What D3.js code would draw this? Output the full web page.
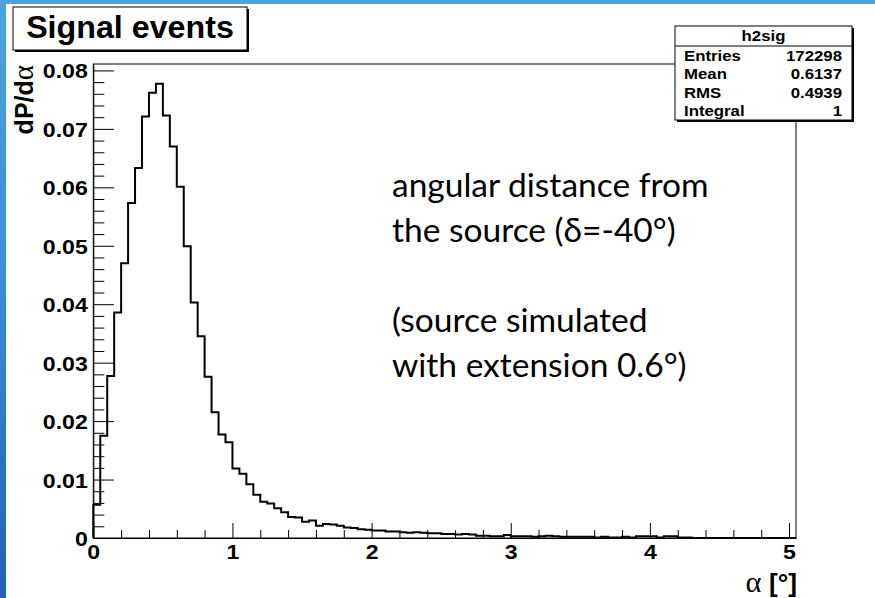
<!DOCTYPE html>
<html>
<head>
<meta charset="utf-8">
<script src="https://cdn.jsdelivr.net/npm/d3@7"></script>
<style>
  html, body { margin: 0; padding: 0; background: #fff; }
  svg { display: block; }
</style>
</head>
<body>
<svg id="chart" width="875" height="598"></svg>
<script>
// ---------------- DATA ----------------
const binWidth = 0.05;
const binLow = 0;
// histogram contents dP/dα per bin (0.05 wide bins from 0 to 5.05)
const binValues = [
  0.0057, 0.0175, 0.0277, 0.0386, 0.0470, 0.0573, 0.0633, 0.0721, 0.0762, 0.0777,
  0.0723, 0.0670, 0.0601, 0.0499, 0.0403, 0.0345, 0.0276, 0.0215, 0.0177, 0.0164,
  0.0119, 0.0110, 0.0092, 0.0074, 0.0062, 0.0059, 0.0051, 0.0044, 0.0036, 0.0035,
  0.0028, 0.0030, 0.0021, 0.0024, 0.0023, 0.0021, 0.0018, 0.0017, 0.0015, 0.0014,
  0.0013, 0.0013, 0.0011, 0.0011, 0.0010, 0.0009, 0.0010, 0.0009, 0.0008, 0.0008,
  0.0007, 0.0007, 0.0006, 0.0007, 0.0006, 0.0004, 0.0004, 0.0003, 0.0003, 0.0005,
  0.0003, 0.0003, 0.0003, 0.0002, 0.0003, 0.0004, 0.0003, 0.0002, 0.0002, 0.0002,
  0.0002, 0.0002, 0.0001, 0.0002, 0.0001, 0.0001, 0.0002, 0.0001, 0.0003, 0.0003,
  0.0003, 0.0001, 0.0003, 0.0003, 0.0001, 0.0001, 0, 0, 0, 0,
  0, 0, 0, 0, 0, 0, 0, 0, 0, 0,
  0
];
const xTicks = [0, 1, 2, 3, 4, 5];
const xTickLabels = ["0", "1", "2", "3", "4", "5"];
const yTicks = [0, 0.01, 0.02, 0.03, 0.04, 0.05, 0.06, 0.07, 0.08];
const yTickLabels = ["0", "0.01", "0.02", "0.03", "0.04", "0.05", "0.06", "0.07", "0.08"];
const yMax = 0.0811;
const titleText = "Signal events";
const statsTitle = "h2sig";
const statNames = ["Entries", "Mean", "RMS", "Integral"];
const statValues = ["172298", "0.6137", "0.4939", "1"];
const noteLines = ["angular distance from", "the source (\u03B4=-40\u00B0)", "", "(source simulated", "with extension 0.6\u00B0)"];

// ---------------- LAYOUT ----------------
const svg = d3.select("#chart");
const W = 875, H = 598;
const SX = 1.12; // horizontal stretch of the ROOT canvas text
const frame = { left: 93.3, right: 796, top: 64, bottom: 538 };
const ROOTFONT = "'Liberation Sans', Arial, Helvetica, sans-serif";
const SYMFONT = "'Liberation Serif', 'DejaVu Serif', serif";

const nBins = binValues.length;
const xMaxVal = binLow + nBins * binWidth;
const x = d3.scaleLinear().domain([binLow, xMaxVal]).range([frame.left, frame.right]);
const y = d3.scaleLinear().domain([0, yMax]).range([frame.bottom, frame.top]);

// slide background
const defs = svg.append("defs");
const grad = defs.append("linearGradient").attr("id", "bg").attr("x1", 0).attr("y1", 0).attr("x2", 0).attr("y2", 1);
grad.append("stop").attr("offset", "0%").attr("stop-color", "#4aa4dc");
grad.append("stop").attr("offset", "45%").attr("stop-color", "#3b8fd2");
grad.append("stop").attr("offset", "100%").attr("stop-color", "#2660b4");
svg.append("rect").attr("x", 0).attr("y", 0).attr("width", W).attr("height", H).attr("fill", "url(#bg)");
svg.append("rect").attr("x", 6).attr("y", 4).attr("width", W - 6).attr("height", H - 4).attr("fill", "#fff");

// frame
svg.append("rect")
  .attr("x", frame.left).attr("y", frame.top)
  .attr("width", frame.right - frame.left).attr("height", frame.bottom - frame.top)
  .attr("fill", "none").attr("stroke", "#000").attr("stroke-width", 1);

// histogram outline
const pts = [[binLow, 0]];
binValues.forEach((v, i) => {
  const lo = binLow + i * binWidth, hi = lo + binWidth;
  pts.push([lo, v], [hi, v]);
});
pts.push([xMaxVal, 0]);
const line = d3.line().x(d => x(d[0])).y(d => y(d[1]));
svg.append("path").attr("d", line(pts)).attr("fill", "none")
  .attr("stroke", "#000").attr("stroke-width", 2).attr("stroke-linejoin", "miter");

// axes
function styleText(sel, size) {
  sel.attr("font-family", ROOTFONT).attr("font-weight", "bold")
     .attr("font-size", size).attr("fill", "#000");
}
const yMinorVals = d3.range(0, yMax + 1e-9, 0.002).filter(v => Math.abs(v * 100 - Math.round(v * 100)) > 1e-6);
const xMinorVals = d3.range(0, xMaxVal + 1e-9, 0.2).filter(v => Math.abs(v - Math.round(v)) > 1e-6);

const gyMinor = svg.append("g").attr("transform", `translate(${frame.left},0)`)
  .call(d3.axisLeft(y).tickValues(yMinorVals).tickSizeInner(-11).tickSizeOuter(0).tickFormat(""));
gyMinor.select(".domain").remove();
const gy = svg.append("g").attr("transform", `translate(${frame.left},0)`)
  .call(d3.axisLeft(y).tickValues(yTicks).tickSizeInner(-20.7).tickSizeOuter(0).tickPadding(5)
        .tickFormat((d, i) => yTickLabels[i]));
gy.selectAll("text").attr("dy", "0.36em").attr("transform", `scale(1.1,1)`).call(styleText, 21);

const gxMinor = svg.append("g").attr("transform", `translate(0,${frame.bottom})`)
  .call(d3.axisBottom(x).tickValues(xMinorVals).tickSizeInner(-8).tickSizeOuter(0).tickFormat(""));
gxMinor.select(".domain").remove();
const gx = svg.append("g").attr("transform", `translate(0,${frame.bottom})`)
  .call(d3.axisBottom(x).tickValues(xTicks).tickSizeInner(-15).tickSizeOuter(0).tickPadding(6)
        .tickFormat((d, i) => xTickLabels[i]));
gx.selectAll("text").attr("transform", `scale(1.1,1)`).call(styleText, 21);
svg.selectAll(".tick line").attr("stroke", "#000").attr("stroke-width", 1);
svg.selectAll(".domain").attr("stroke", "#000").attr("stroke-width", 1);

// axis titles
const yt = svg.append("text").attr("transform", `translate(33,65) rotate(-90)`)
  .attr("text-anchor", "end");
yt.append("tspan").text("dP/d").call(styleText, 25);
yt.append("tspan").text("\u03B1").attr("font-family", SYMFONT)
  .attr("font-size", 29).attr("fill", "#000");

const xt = svg.append("text").attr("transform", `translate(797,592) scale(1.05,1)`)
  .attr("text-anchor", "end");
xt.append("tspan").text("\u03B1 ").attr("font-family", SYMFONT)
  .attr("font-size", 29).attr("fill", "#000");
xt.append("tspan").text("[\u00B0]").call(styleText, 25);

// stats box
const sb = { x0: 675, x1: 852, y0: 26, y1: 120, sep: 46 };
svg.append("rect").attr("x", sb.x0 + 2).attr("y", sb.y0 + 2).attr("width", sb.x1 - sb.x0).attr("height", sb.y1 - sb.y0).attr("fill", "#000");
svg.append("rect").attr("x", sb.x0).attr("y", sb.y0).attr("width", sb.x1 - sb.x0).attr("height", sb.y1 - sb.y0)
  .attr("fill", "#fff").attr("stroke", "#000").attr("stroke-width", 1);
svg.append("line").attr("x1", sb.x0).attr("x2", sb.x1).attr("y1", sb.sep).attr("y2", sb.sep).attr("stroke", "#000");
svg.append("text").attr("transform", `translate(${(sb.x0 + sb.x1) / 2},40.5) scale(${SX},1)`)
  .attr("text-anchor", "middle").text(statsTitle).call(styleText, 15);
const rowBase = [60.5, 79, 97.5, 116];
statNames.forEach((n, i) => {
  svg.append("text").attr("transform", `translate(${sb.x0 + 9},${rowBase[i]}) scale(${SX},1)`)
    .text(n).call(styleText, 15);
  svg.append("text").attr("transform", `translate(842,${rowBase[i]}) scale(${SX},1)`)
    .attr("text-anchor", "end").text(statValues[i]).call(styleText, 15);
});

// title box
const tb = { x0: 13, x1: 247, y0: 7, y1: 50 };
svg.append("rect").attr("x", tb.x0 + 2).attr("y", tb.y0 + 2).attr("width", tb.x1 - tb.x0).attr("height", tb.y1 - tb.y0).attr("fill", "#000");
svg.append("rect").attr("x", tb.x0).attr("y", tb.y0).attr("width", tb.x1 - tb.x0).attr("height", tb.y1 - tb.y0)
  .attr("fill", "#fff").attr("stroke", "#000").attr("stroke-width", 1);
svg.append("text").attr("transform", `translate(${(tb.x0 + tb.x1) / 2},38) scale(1.04,1)`)
  .attr("text-anchor", "middle").text(titleText).call(styleText, 31);

// annotation
const note = svg.append("text").attr("font-family", "Lato, 'Open Sans', sans-serif")
  .attr("font-size", 33.5).attr("fill", "#000");
noteLines.forEach((t, i) => {
  note.append("tspan").attr("x", 392).attr("y", 197 + i * 45).text(t);
});
</script>
</body>
</html>
